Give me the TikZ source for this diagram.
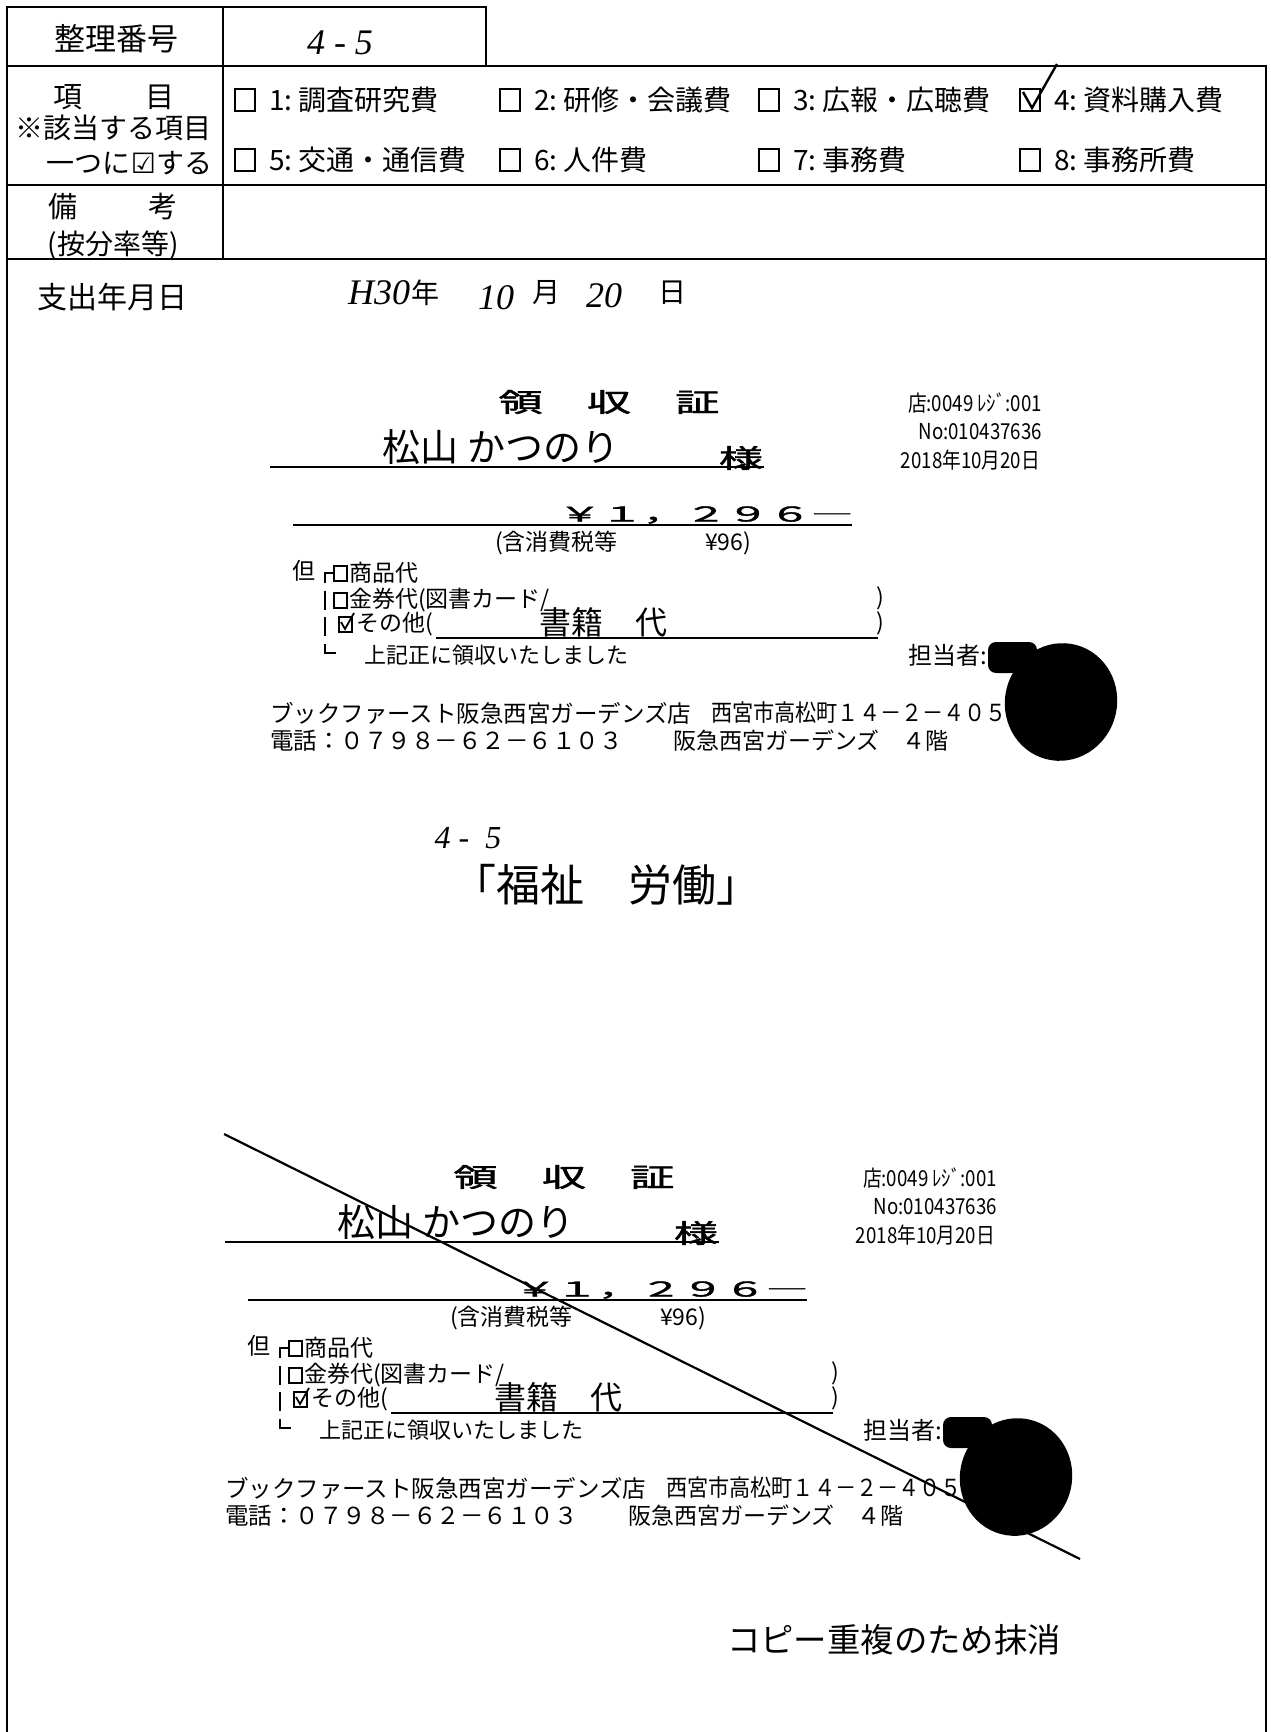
\documentclass[tikz,border=0pt]{standalone}
\usepackage{fontspec}
\newfontfamily\jp{Noto Sans CJK JP}
\newfontfamily\jpb{Noto Sans CJK JP}[FakeBold=1.5]
\newfontfamily\hw{Liberation Serif}
\newfontfamily\dv{DejaVu Sans}
\newcommand\F[1]{\jp\fontsize{#1}{#1}\selectfont}
\newcommand\FB[1]{\jpb\fontsize{#1}{#1}\selectfont}
\newcommand\HW[1]{\hw\itshape\fontsize{#1}{#1}\selectfont}
\tikzset{
  tbl/.style={line width=1.2pt, line cap=rect},
  ul/.style={line width=1pt},
  t/.style={inner sep=0pt, outer sep=0pt},
  cbox/.style={line width=1pt},
  thin/.style={line width=0.9pt},
}
\newcommand\itm[5]{%
  \draw[cbox] (#2,#3-11) rectangle ++(20,22);
  \node[t, anchor=west, font=\F{14}] (#1) at (#2+34,#3) {#4\hspace{3pt}#5};
}
\newcommand\receipt[1]{%
  \node[t, font=\FB{13}, xscale=1.7] (#1-title) at (609,402) {領　収　証};
  \draw[ul] (270,467) -- (764,467);
  \node[t, font=\F{19}] (#1-name) at (501,447) {松山 かつのり};
  \node[t, font=\FB{13}, xscale=1.7] (#1-sama) at (741,458) {様};
  \node[t, font=\FB{10.25}, xscale=2.05] (#1-amt) at (706,515) {￥１，２９６―};
  \draw[ul] (293,525) -- (852,525);
  \node[t, anchor=west, font=\F{11.5}] (#1-tax1) at (495,543) {(含消費税等};
  \node[t, anchor=west, font=\F{11.5}] (#1-tax2) at (705,543) {¥96)};
  \node[t, font=\F{11.5}] (#1-tadashi) at (304,571) {但};
  \draw[thin] (333,573) -- (325,573) -- (325,583);
  \draw[thin] (325,591) -- (325,610);
  \draw[thin] (325,617) -- (325,636);
  \draw[thin] (325,644) -- (325,653) -- (336,653);
  \draw[thin] (334,566) rectangle (347,581);
  \node[t, anchor=west, font=\F{11.5}] (#1-l1) at (349,573) {商品代};
  \draw[thin] (334,593) rectangle (347,608);
  \node[t, anchor=west, font=\F{11.5}] (#1-l2) at (349,600) {金券代(図書カード/};
  \node[t, font=\F{11.5}] (#1-p2) at (880,598) {)};
  \draw[thin] (339,617) rectangle (352,632);
  \draw[thin] (341,622) -- (345,629) -- (354,613);
  \node[t, anchor=west, font=\F{11.5}] (#1-l3) at (356,624) {その他(};
  \node[t, font=\F{11.5}] (#1-p3) at (880,623) {)};
  \draw[ul] (436,638) -- (878,638);
  \node[t, font=\F{16}] (#1-hw) at (603,622) {書籍　代};
  \node[t, anchor=west, font=\F{11}] (#1-l4) at (364,655) {上記正に領収いたしました};
  \node[t, anchor=east, font=\F{11}, xscale=0.85] (#1-shop) at (1042,403) {店:0049 ﾚｼﾞ:001};
  \node[t, anchor=east, font=\F{11}, xscale=0.85] (#1-no) at (1042,432) {No:010437636};
  \node[t, anchor=east, font=\F{11}, xscale=0.85] (#1-date) at (1040,460) {2018年10月20日};
  \node[t, anchor=west, font=\F{12}] (#1-tanto) at (908,655) {担当者:};
  \fill[rounded corners=4pt] (988,642) rectangle (1037,673);
  \fill[rotate around={-15:(1061,702)}] (1061,702) ellipse [x radius=28pt, y radius=29.5pt];
  \node[t, anchor=west, font=\F{11.75}] (#1-addr1) at (270,713) {ブックファースト阪急西宮ガーデンズ店};
  \node[t, anchor=west, font=\F{11.75}, xscale=0.9] (#1-addr2) at (711,713) {西宮市高松町１４－２－４０５};
  \node[t, anchor=west, font=\F{11.75}] (#1-tel) at (270,741) {電話：０７９８－６２－６１０３};
  \node[t, anchor=west, font=\F{11.5}] (#1-floor) at (673,741) {阪急西宮ガーデンズ　４階};
}
\begin{document}
\begin{tikzpicture}[x=0.5pt, y=-0.5pt]
\useasboundingbox (0,0) rectangle (1270,1732);
\fill[white] (0,0) rectangle (1270,1732);
% table frame
\draw[tbl] (7,1732) -- (7,7) -- (486,7) -- (486,66);
\draw[tbl] (7,66) -- (1266,66);
\draw[tbl] (7,185) -- (1266,185);
\draw[tbl] (7,259) -- (1266,259);
\draw[tbl] (1266,66) -- (1266,1732);
\draw[tbl] (223,7) -- (223,259);
% left column labels
\node[t, font=\F{15.5}] (seiri) at (116,39) {整理番号};
\node[t, font=\HW{18}] (seirino) at (340,43) {4 - 5};
\node[t, font=\F{14.5}] (kou) at (68,97) {項};
\node[t, font=\F{14.5}] (moku) at (160,97) {目};
\node[t, font=\F{14}] (gaitou) at (113,128) {※該当する項目};
\node[t, anchor=east, font=\F{14}] (hitotsu) at (212,163) {一つに{\dv ☑}する};
\node[t, font=\F{14.5}] (bi) at (63,207) {備};
\node[t, font=\F{14.5}] (kou2) at (163,207) {考};
\node[t, font=\F{14}] (anbun) at (113,245) {(按分率等)};
% items
\itm{i1}{235}{100}{1:}{調査研究費}
\itm{i2}{500}{100}{2:}{研修・会議費}
\itm{i3}{759}{100}{3:}{広報・広聴費}
\itm{i4}{1020}{100}{4:}{資料購入費}
\itm{i5}{235}{160}{5:}{交通・通信費}
\itm{i6}{500}{160}{6:}{人件費}
\itm{i7}{759}{160}{7:}{事務費}
\itm{i8}{1020}{160}{8:}{事務所費}
\draw[line width=1.2pt] (1023,92) -- (1032,108) -- (1057,64);
% date row
\node[t, font=\F{15}] (shishutsu) at (112,297) {支出年月日};
\node[t, font=\HW{18}] (hH) at (379,293) {H30};
\node[t, font=\F{14}] (nen) at (425,293) {年};
\node[t, font=\HW{18}] (hM) at (496,298) {10};
\node[t, font=\F{14}] (tsuki) at (546,293) {月};
\node[t, font=\HW{18}] (hD) at (604,296) {20};
\node[t, font=\F{14}] (hi) at (672,293) {日};
% receipts
\receipt{r1}
\node[t, font=\HW{16}] (mid45) at (468,838) {4 -\ \ 5};
\node[t, font=\F{22}] (midtxt) at (606,885) {「福祉　労働」};
\begin{scope}[shift={(-45,775)}]
\receipt{r2}
\end{scope}
\coordinate (cs) at (224,1134);
\coordinate (ce) at (1080,1559);
\draw[line width=1.1pt] (cs) -- (ce);
\node[t, font=\F{16.7}] (masshou) at (894,1640) {コピー重複のため抹消};
\end{tikzpicture}
\end{document}
